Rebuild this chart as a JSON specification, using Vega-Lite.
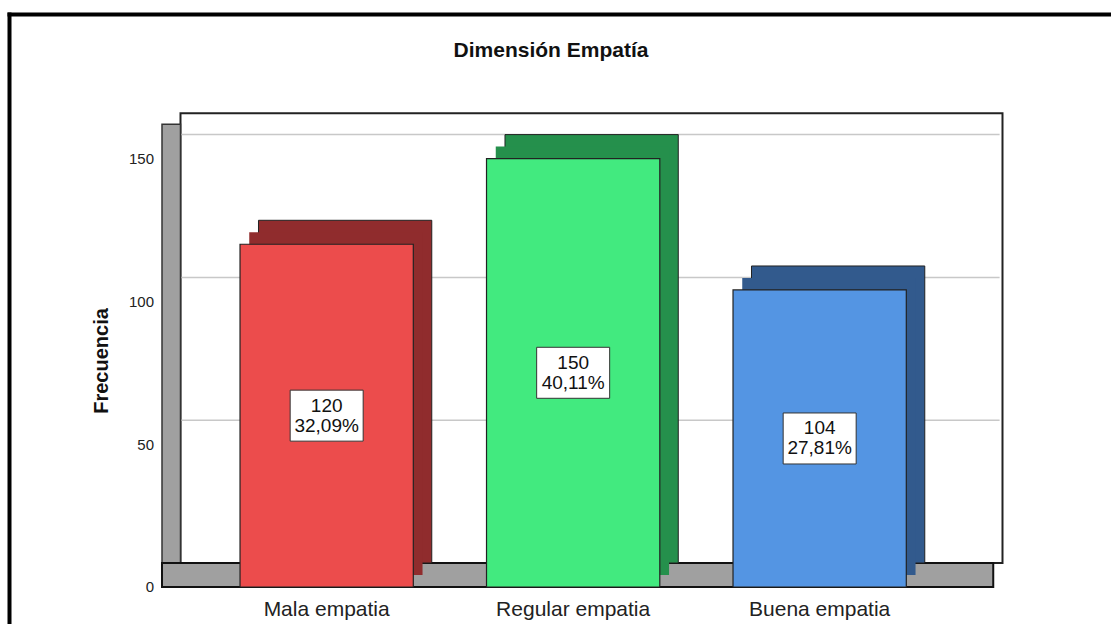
{
  "$schema": "https://vega.github.io/schema/vega-lite/v6.json",
  "width": 1102,
  "height": 610,
  "autosize": "none",
  "padding": {"left": 9, "top": 14, "right": 0, "bottom": 0},
  "background": "white",
  "config": {
    "view": {"stroke": null},
    "font": "Liberation Sans",
    "axis": {"labelFont": "Liberation Sans", "titleFont": "Liberation Sans"}
  },
  "title": {
    "text": "Dimensión Empatía",
    "font": "Liberation Sans",
    "fontSize": 21,
    "fontWeight": "bold",
    "color": "#111111",
    "anchor": "middle",
    "frame": "group",
    "offset": -47,
    "dx": -9
  },
  "data": {
    "values": [
      {"cat": "Mala empatia", "n": 120, "pct": "32,09%"},
      {"cat": "Regular empatia", "n": 150, "pct": "40,11%"},
      {"cat": "Buena empatia", "n": 104, "pct": "27,81%"}
    ]
  },
  "resolve": {
    "scale": {"x": "independent", "y": "independent", "color": "independent"},
    "axis": {"x": "independent", "y": "independent"}
  },
  "layer": [
    {
      "data": {"values": [{}]},
      "mark": {"type": "rect", "fill": "white", "stroke": "#222222", "strokeWidth": 2},
      "encoding": {
        "x": {"datum": -0.5929, "type": "quantitative",
              "scale": {"domain": [-1.28864, 3.18195], "nice": false, "zero": false},
              "axis": {"orient": "top", "title": null, "labels": false, "ticks": false, "grid": false, "domain": true, "domainColor": "#000000", "domainWidth": 4, "domainCap": "square"}},
        "x2": {"datum": 2.74178},
        "y": {"datum": 0, "type": "quantitative",
              "scale": {"domain": [-21.36, 192.23], "nice": false, "zero": false},
              "axis": {"orient": "left", "offset": 0, "title": null, "labels": false, "ticks": false, "grid": false, "domain": true, "domainColor": "#000000", "domainWidth": 4, "domainCap": "square"}},
        "y2": {"datum": 157.46}
      }
    },
    {
      "data": {"values": [{"g": 50}, {"g": 100}, {"g": 150}]},
      "mark": {"type": "rule", "stroke": "#c8c8c8", "strokeWidth": 1.5},
      "encoding": {
        "x": {"datum": -0.5929, "type": "quantitative",
              "scale": {"domain": [-1.28864, 3.18195], "nice": false, "zero": false}, "axis": null},
        "x2": {"datum": 2.73},
        "y": {"field": "g", "type": "quantitative",
              "scale": {"domain": [-21.36, 192.23], "nice": false, "zero": false}, "axis": null}
      }
    },
    {
      "data": {"values": [{}]},
      "mark": {"type": "rect", "fill": "#a0a0a0", "stroke": "#333333", "strokeWidth": 1.5},
      "encoding": {
        "x": {"datum": -0.66795, "type": "quantitative",
              "scale": {"domain": [-1.28864, 3.18195], "nice": false, "zero": false}, "axis": null},
        "x2": {"datum": -0.5929},
        "y": {"datum": -8.4, "type": "quantitative",
              "scale": {"domain": [-21.36, 192.23], "nice": false, "zero": false}, "axis": null},
        "y2": {"datum": 153.66}
      }
    },
    {
      "data": {"values": [{}]},
      "mark": {"type": "rect", "fill": "#a0a0a0", "stroke": "#111111", "strokeWidth": 2},
      "encoding": {
        "x": {"datum": -0.66795, "type": "quantitative",
              "scale": {"domain": [-1.28864, 3.18195], "nice": false, "zero": false}, "axis": null},
        "x2": {"datum": 2.70426},
        "y": {"datum": -8.4, "type": "quantitative",
              "scale": {"domain": [-21.36, 192.23], "nice": false, "zero": false}, "axis": null},
        "y2": {"datum": 0}
      }
    },
    {
      "mark": {"type": "bar", "stroke": "#222222", "strokeWidth": 1},
      "encoding": {
        "x": {"field": "cat", "type": "nominal", "sort": null,
              "scale": {"type": "band", "domain": ["Mala empatia", "Regular empatia", "Buena empatia"], "paddingInner": 0.297, "paddingOuter": 0.8838, "align": 0.5726, "round": false},
              "axis": null},
        "y": {"field": "n", "type": "quantitative",
              "scale": {"domain": [-21.36, 192.23], "nice": false, "zero": false}, "axis": null},
        "y2": {"datum": 0},
        "color": {"field": "cat", "type": "nominal", "legend": null,
                  "scale": {"domain": ["Mala empatia", "Regular empatia", "Buena empatia"], "range": ["#902c2d", "#25904c", "#325a8d"]}}
      }
    },
    {
      "mark": {"type": "bar", "strokeWidth": 0},
      "encoding": {
        "x": {"field": "cat", "type": "nominal", "sort": null,
              "scale": {"type": "band", "domain": ["Mala empatia", "Regular empatia", "Buena empatia"], "paddingInner": 0.297, "paddingOuter": 0.8838, "align": 0.5514, "round": false},
              "axis": null},
        "y": {"field": "n", "type": "quantitative",
              "scale": {"domain": [-17.16, 196.43], "nice": false, "zero": false}, "axis": null},
        "y2": {"datum": 0},
        "color": {"field": "cat", "type": "nominal", "legend": null,
                  "scale": {"domain": ["Mala empatia", "Regular empatia", "Buena empatia"], "range": ["#902c2d", "#25904c", "#325a8d"]}}
      }
    },
    {
      "mark": {"type": "bar", "stroke": "#222222", "strokeWidth": 1.2},
      "encoding": {
        "x": {"field": "cat", "type": "nominal", "sort": null,
              "scale": {"type": "band", "domain": ["Mala empatia", "Regular empatia", "Buena empatia"], "paddingInner": 0.297, "paddingOuter": 0.8838, "align": 0.5302, "round": false},
              "axis": {"orient": "bottom", "offset": -37, "title": null, "domain": false, "ticks": false, "tickSize": 0, "labelPadding": 28, "labelBaseline": "alphabetic", "labelFontSize": 21, "labelColor": "#222222", "labelAngle": 0}},
        "y": {"field": "n", "type": "quantitative",
              "scale": {"domain": [-12.96, 200.63], "nice": false, "zero": false},
              "axis": {"orient": "left", "offset": -153, "values": [0, 50, 100, 150], "title": "Frecuencia", "domain": false, "ticks": false, "tickSize": 0, "grid": false, "labelPadding": 8.5, "labelFontSize": 15, "labelColor": "#222222", "titleFontSize": 20, "titleFontWeight": "bold", "titleColor": "#111111", "titlePadding": 17, "titleY": 346.5}},
        "y2": {"datum": 0},
        "color": {"field": "cat", "type": "nominal", "legend": null,
                  "scale": {"domain": ["Mala empatia", "Regular empatia", "Buena empatia"], "range": ["#ec4c4c", "#42ea7f", "#5495e3"]}}
      }
    },
    {
      "mark": {"type": "rect", "fill": "white", "stroke": "#333333", "strokeWidth": 1, "width": 73, "height": 51},
      "encoding": {
        "x": {"field": "cat", "type": "nominal", "sort": null,
              "scale": {"type": "band", "domain": ["Mala empatia", "Regular empatia", "Buena empatia"], "paddingInner": 0.297, "paddingOuter": 0.8838, "align": 0.5302, "round": false},
              "axis": null},
        "y": {"field": "n", "type": "quantitative",
              "scale": {"domain": [-25.92, 401.26], "nice": false, "zero": false}, "axis": null}
      }
    },
    {
      "mark": {"type": "text", "fontSize": 19, "baseline": "alphabetic", "align": "center", "dy": -4, "color": "#111111"},
      "encoding": {
        "x": {"field": "cat", "type": "nominal", "sort": null,
              "scale": {"type": "band", "domain": ["Mala empatia", "Regular empatia", "Buena empatia"], "paddingInner": 0.297, "paddingOuter": 0.8838, "align": 0.5302, "round": false},
              "axis": null},
        "y": {"field": "n", "type": "quantitative",
              "scale": {"domain": [-25.92, 401.26], "nice": false, "zero": false}, "axis": null},
        "text": {"field": "n", "type": "quantitative"}
      }
    },
    {
      "mark": {"type": "text", "fontSize": 19, "baseline": "alphabetic", "align": "center", "dy": 16, "color": "#111111"},
      "encoding": {
        "x": {"field": "cat", "type": "nominal", "sort": null,
              "scale": {"type": "band", "domain": ["Mala empatia", "Regular empatia", "Buena empatia"], "paddingInner": 0.297, "paddingOuter": 0.8838, "align": 0.5302, "round": false},
              "axis": null},
        "y": {"field": "n", "type": "quantitative",
              "scale": {"domain": [-25.92, 401.26], "nice": false, "zero": false}, "axis": null},
        "text": {"field": "pct", "type": "nominal"}
      }
    }
  ]
}
